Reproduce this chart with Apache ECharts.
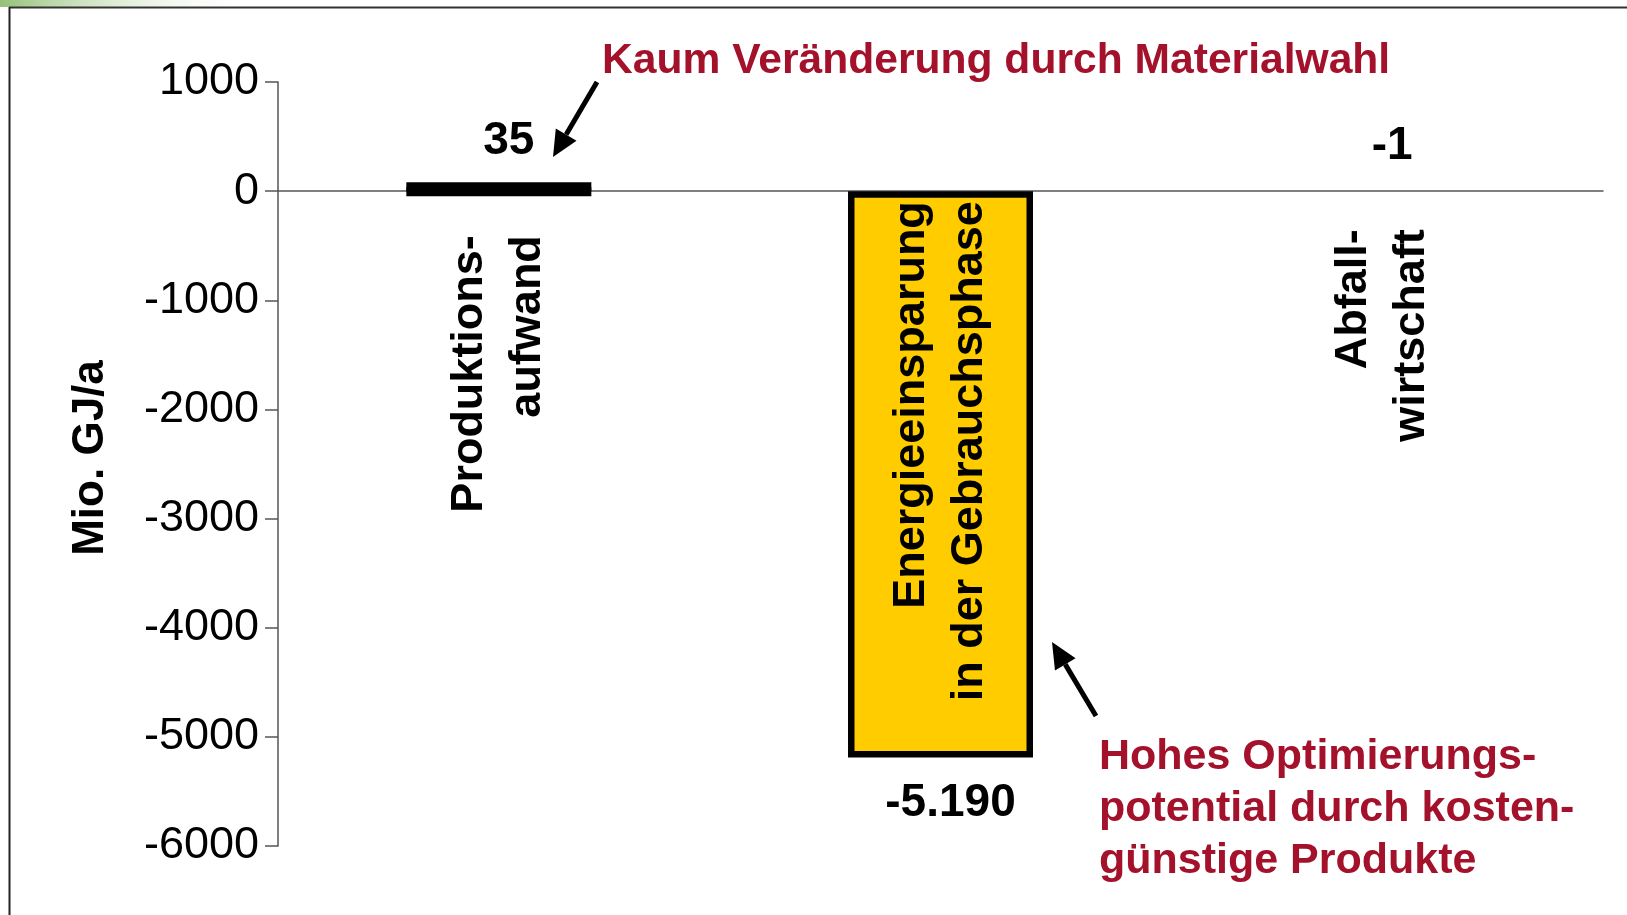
<!DOCTYPE html>
<html>
<head>
<meta charset="utf-8">
<script src="https://cdn.jsdelivr.net/npm/echarts@6/dist/echarts.min.js"></script>
<style>
  html, body { margin: 0; padding: 0; background: #fff; }
  #chart { width: 1627px; height: 915px; }
</style>
</head>
<body>
<div id="chart"></div>
<script>
// Kategorien (x-Achse)
const categories = ['Produktions-\naufwand', 'Energieeinsparung\nin der Gebrauchsphase', 'Abfall-\nwirtschaft']
// Werte in Mio. GJ/a
const values = [35, -5190, -1]
// Beschriftung der Balken
const valueLabels = ['35', '-5.190', '-1']
// y-Achse
const yMin = -6000
const yMax = 1000
const yStep = 1000

const FONT = '"Liberation Sans", Arial, Helvetica, sans-serif'
const RED = '#A3112B'
const GRID_TOP = 82
const GRID_BOTTOM = 69
const H = 915

// Pfeilspitze berechnen
function arrow(tail, tip) {
  const dx = tip[0] - tail[0], dy = tip[1] - tail[1]
  const len = Math.sqrt(dx * dx + dy * dy)
  const ux = dx / len, uy = dy / len
  const bx = tip[0] - 26 * ux, by = tip[1] - 26 * uy
  const nx = -uy, ny = ux
  return [
    { type: 'line', shape: { x1: tail[0], y1: tail[1], x2: bx, y2: by }, style: { stroke: '#000', lineWidth: 5 } },
    { type: 'polygon', shape: { points: [tip, [bx + 12 * nx, by + 12 * ny], [bx - 12 * nx, by - 12 * ny]] }, style: { fill: '#000' } },
  ]
}

// Balken-Stil je Kategorie
const barStyles = [
  { color: '#000', borderWidth: 0, shadowColor: '#000', shadowBlur: 0, shadowOffsetY: 5 },
  { color: '#FFCC00', borderColor: '#000', borderWidth: 6.5 },
  { color: 'rgba(0,0,0,0)', borderWidth: 0 },
]
const labelPos = ['top', 'bottom', 'top']
const labelDist = [18, 23, 22]
const catPadding = [34, 0, 28]

let myChart = echarts.init(document.getElementById('chart'))
let option = {
  backgroundColor: '#fff',
  animation: false,
  grid: {
    left: 278,
    right: 24,
    top: GRID_TOP,
    bottom: GRID_BOTTOM,
    outerBoundsMode: 'none',
  },
  xAxis: [
    // nur Beschriftung, über den Balken
    {
      type: 'category',
      position: 'bottom',
      z: 5,
      data: categories.map((c, i) => ({
        value: c,
        textStyle: { padding: [10, catPadding[i], 0, 0] },
      })),
      axisLine: { show: false, onZero: false },
      axisTick: { show: false },
      axisLabel: {
        interval: 0,
        rotate: 90,
        margin: 10,
        color: '#000',
        fontFamily: FONT,
        fontWeight: 'bold',
        fontSize: 45,
        lineHeight: 58,
      },
      splitLine: { show: false },
    },
    // Achsenlinie und Striche, unter den Balken
    {
      type: 'category',
      position: 'bottom',
      data: categories,
      axisLine: { onZero: false, lineStyle: { color: '#555', width: 1.5 } },
      axisTick: { length: 13, lineStyle: { color: '#555', width: 1.5 } },
      axisLabel: { show: false },
      splitLine: { show: false },
    },
  ],
  yAxis: {
    type: 'value',
    min: yMin,
    max: yMax,
    interval: yStep,
    name: 'Mio. GJ/a',
    nameLocation: 'middle',
    nameGap: 165,
    nameRotate: 90,
    nameTextStyle: {
      color: '#000',
      fontFamily: FONT,
      fontWeight: 'bold',
      fontSize: 44,
      padding: [0, 0, 0, 12],
    },
    axisLine: { show: true, lineStyle: { color: '#555', width: 1.5 } },
    axisTick: { show: true, length: 13, lineStyle: { color: '#555', width: 1.5 } },
    axisLabel: {
      margin: 19,
      color: '#000',
      fontFamily: FONT,
      fontSize: 45,
      padding: [8, 0, 0, 0],
      formatter: (v) => String(v),
    },
    splitLine: { show: false },
  },
  series: [
    {
      type: 'bar',
      xAxisIndex: 0,
      barWidth: 185,
      barMinHeight: 9,
      data: values.map((v, i) => ({
        value: v,
        itemStyle: barStyles[i],
        label: {
          show: true,
          position: labelPos[i],
          distance: labelDist[i],
          offset: [10, 0],
          formatter: valueLabels[i],
          color: '#000',
          fontFamily: FONT,
          fontWeight: 'bold',
          fontSize: 46,
        },
      })),
    },
  ],
  graphic: [
    // Folienrahmen
    {
      type: 'rect',
      shape: { x: 0, y: 0, width: 260, height: 7 },
      style: {
        fill: new echarts.graphic.LinearGradient(0, 0, 1, 0, [
          { offset: 0, color: '#95c179' },
          { offset: 1, color: 'rgba(255,255,255,0)' },
        ]),
      },
      silent: true,
    },
    { type: 'line', shape: { x1: 9, y1: 7.5, x2: 1627, y2: 7.5 }, style: { stroke: '#333', lineWidth: 2 } },
    { type: 'line', shape: { x1: 9.5, y1: 7, x2: 9.5, y2: 915 }, style: { stroke: '#222', lineWidth: 2 } },
    // Anmerkungen
    {
      type: 'text',
      x: 602,
      y: 61,
      style: {
        text: 'Kaum Veränderung durch Materialwahl',
        fill: RED,
        font: 'bold 42.6px ' + FONT,
        verticalAlign: 'middle',
      },
    },
    ...arrow([597, 82], [553, 157]),
    {
      type: 'text',
      x: 1099,
      y: 731,
      style: {
        text: 'Hohes Optimierungs-\npotential durch kosten-\ngünstige Produkte',
        fill: RED,
        font: 'bold 43px ' + FONT,
        lineHeight: 52,
        verticalAlign: 'top',
      },
    },
    ...arrow([1096, 716], [1052, 642]),
  ],
}
myChart.setOption(option)

// x-Achsen auf die Nulllinie schieben
const y0 = myChart.convertToPixel({ yAxisIndex: 0 }, 0)
const off = y0 - (H - GRID_BOTTOM)
myChart.setOption({ xAxis: [{ offset: off }, { offset: off }] })
</script>
</body>
</html>
